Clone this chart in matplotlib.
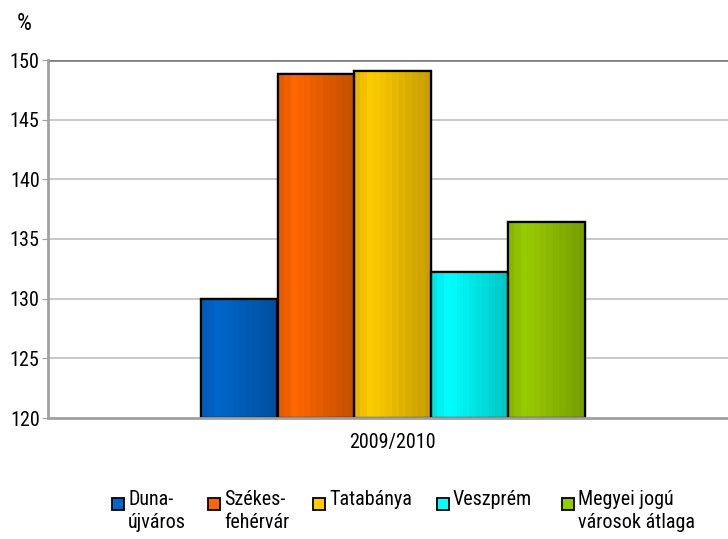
import numpy as np
import matplotlib
matplotlib.use('Agg')
import matplotlib.pyplot as plt
from matplotlib.patches import Rectangle
import matplotlib.colors as mcolors

file_out = 'out.png'

category = '2009/2010'
cities = ['Duna-\nújváros', 'Székes-\nfehérvár', 'Tatabánya', 'Veszprém',
          'Megyei jogú\nvárosok átlaga']
values = [130.0, 148.8, 149.1, 132.2, 136.4]
colors = ['#0066cc', '#ff6600', '#ffcc00', '#00ffff', '#99cc00']
yticks = [120, 125, 130, 135, 140, 145, 150]

plt.rcParams['font.family'] = ['Roboto Condensed', 'Liberation Sans', 'DejaVu Sans']
fs = 14.5
W, H = 728, 539

fig = plt.figure(figsize=(W / 100, H / 100), dpi=100)
ax = fig.add_axes([48 / W, 1 - 418 / H, 680 / W, 358 / H])

width = 0.113
n = len(values)
offs = (np.arange(n) - (n - 1) / 2) * width

# shading across each bar: a bit lighter near the left, darker on the right
prof_x = np.linspace(0, 1, 12)
prof = np.interp(prof_x, [0, 0.2, 1.0], [0.9, 1.0, 0.78])

for x, v, c in zip(offs, values, colors):
    rect = ax.bar(x, v - 120, width, bottom=120, color=c, edgecolor='black',
                  linewidth=1.6, zorder=3)[0]
    rgb = np.array(mcolors.to_rgb(c))
    img = np.clip(prof[None, :, None] * rgb[None, None, :], 0, 1)
    im = ax.imshow(img, extent=(x - width / 2, x + width / 2, 120, v),
                   aspect='auto', interpolation='nearest', zorder=3.5)
    im.set_clip_path(rect)
    ax.add_patch(Rectangle((x - width / 2, 120), width, v - 120, fill=False,
                           edgecolor='black', linewidth=1.6, zorder=4))

# group is centred slightly right of the axes middle
ax.set_xlim(-0.507, 0.493)
ax.set_ylim(120, 150)
ax.set_yticks(yticks)
ax.set_yticklabels([str(t) for t in yticks], fontsize=fs)
ax.set_xticks([0])
ax.set_xticklabels([category], fontsize=fs)
ax.tick_params(axis='x', length=0, pad=11)
ax.tick_params(axis='y', length=4, color='#a0a0a0', pad=2)
ax.set_aspect('auto')

for t in yticks[1:-1]:
    ax.axhline(t, color='#c0c0c0', linewidth=1.2, zorder=1)
ax.axhline(150, color='#808080', linewidth=2.0, zorder=1)

for s in ['top', 'right']:
    ax.spines[s].set_visible(False)
ax.spines['left'].set_color('#a0a0a0')
ax.spines['left'].set_linewidth(2)
ax.spines['bottom'].set_color('#a0a0a0')
ax.spines['bottom'].set_linewidth(2)
ax.spines['bottom'].set_zorder(5)

fig.text(24 / W, 1 - 24 / H, '%', fontsize=17, ha='center', va='center')

# legend
mark_x = [112, 208, 313, 437, 562]
for mx, lab, c in zip(mark_x, cities, colors):
    fig.patches.append(Rectangle((mx / W, 1 - 510 / H), 12 / W, 12 / H,
                                 facecolor=c, edgecolor='black', linewidth=1.3,
                                 transform=fig.transFigure, figure=fig))
    fig.text((mx + 16) / W, 1 - 490 / H, lab, fontsize=fs, ha='left',
             va='top', linespacing=1.3)

fig.savefig(file_out, dpi=100)
